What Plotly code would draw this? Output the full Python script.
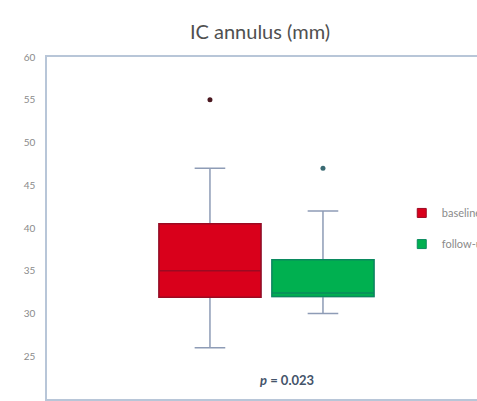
import plotly.graph_objects as go

# Box statistics (mm)
groups = ["baseline", "follow-up"]
q1 = [31.9, 32.0]
median = [35.0, 32.4]
q3 = [40.5, 36.3]
lower = [26.0, 30.0]
upper = [47.0, 42.0]
outliers = [[55.0], [47.0]]

fill_colors = ["#d9001b", "#00b050"]
edge_colors = ["#9c0a22", "#0a8a5e"]
outlier_colors = ["#4a1820", "#3a6a72"]
whisker_color = "#8e9cb6"

y_ticks = [20, 25, 30, 35, 40, 45, 50, 55, 60]

fig = go.Figure()

for i, g in enumerate(groups):
    # whiskers (full extent, thin grey)
    fig.add_trace(go.Box(
        x=[g], q1=[q1[i]], median=[median[i]], q3=[q3[i]],
        lowerfence=[lower[i]], upperfence=[upper[i]],
        fillcolor="rgba(0,0,0,0)", line=dict(color=whisker_color, width=1.5),
        whiskerwidth=0.3, boxpoints=False, showlegend=False, hoverinfo="skip",
    ))
    # filled interquartile box on top
    fig.add_trace(go.Box(
        x=[g], q1=[q1[i]], median=[median[i]], q3=[q3[i]],
        lowerfence=[q1[i]], upperfence=[q3[i]],
        fillcolor=fill_colors[i], line=dict(color=edge_colors[i], width=1.5),
        whiskerwidth=0, boxpoints=False, showlegend=False, name=g,
    ))
    fig.add_trace(go.Scatter(
        x=[g] * len(outliers[i]), y=outliers[i], mode="markers",
        marker=dict(color=outlier_colors[i], size=5), showlegend=False,
    ))

# legend entries (one legend per group so each sits at its own spot)
legend_ids = ["legend", "legend2"]
for i, g in enumerate(groups):
    fig.add_trace(go.Scatter(
        x=[None], y=[None], mode="markers", name=g,
        marker=dict(color=fill_colors[i], symbol="square", size=9,
                    line=dict(color=edge_colors[i], width=1)),
        legend=legend_ids[i], showlegend=True,
    ))

legend_font = dict(family="Lato, sans-serif", size=11, color="#8a8a8a")
fig.update_layout(
    width=477, height=401,
    margin=dict(l=47, r=0, t=57, b=2, autoexpand=False),
    paper_bgcolor="white", plot_bgcolor="white",
    boxmode="overlay", boxgap=0.097, boxgroupgap=0,
    title=dict(text="IC annulus (mm)", x=260 / 477, xanchor="center",
               y=1 - 32 / 401, yanchor="middle",
               font=dict(family="Lato, sans-serif", size=20, color="#505050")),
    xaxis=dict(type="category", categoryorder="array", categoryarray=groups,
               range=[-1.442, 2.363], showticklabels=False, ticks="",
               showgrid=False, zeroline=False, showline=True, mirror=True,
               linecolor="#b8c6d8", linewidth=1.5),
    yaxis=dict(range=[20, 60], tickvals=y_ticks, showgrid=False, zeroline=False,
               showline=True, linecolor="#b8c6d8", linewidth=1.5, ticks="",
               ticklabelstandoff=8,
               tickfont=dict(family="Lato, sans-serif", size=10, color="#8a8a8a")),
    legend=dict(x=0.825, y=0.544, xanchor="left", yanchor="middle",
                font=legend_font, bgcolor="rgba(0,0,0,0)"),
    legend2=dict(x=0.825, y=0.453, xanchor="left", yanchor="middle",
                 font=legend_font, bgcolor="rgba(0,0,0,0)"),
    annotations=[dict(
        text="<b><i>p</i> = 0.023</b>", xref="paper", yref="y",
        x=0.558, y=22.2, showarrow=False,
        xanchor="center", yanchor="middle",
        font=dict(family="Lato, sans-serif", size=13, color="#44546a"),
    )],
)

fig.write_html("out.html")
